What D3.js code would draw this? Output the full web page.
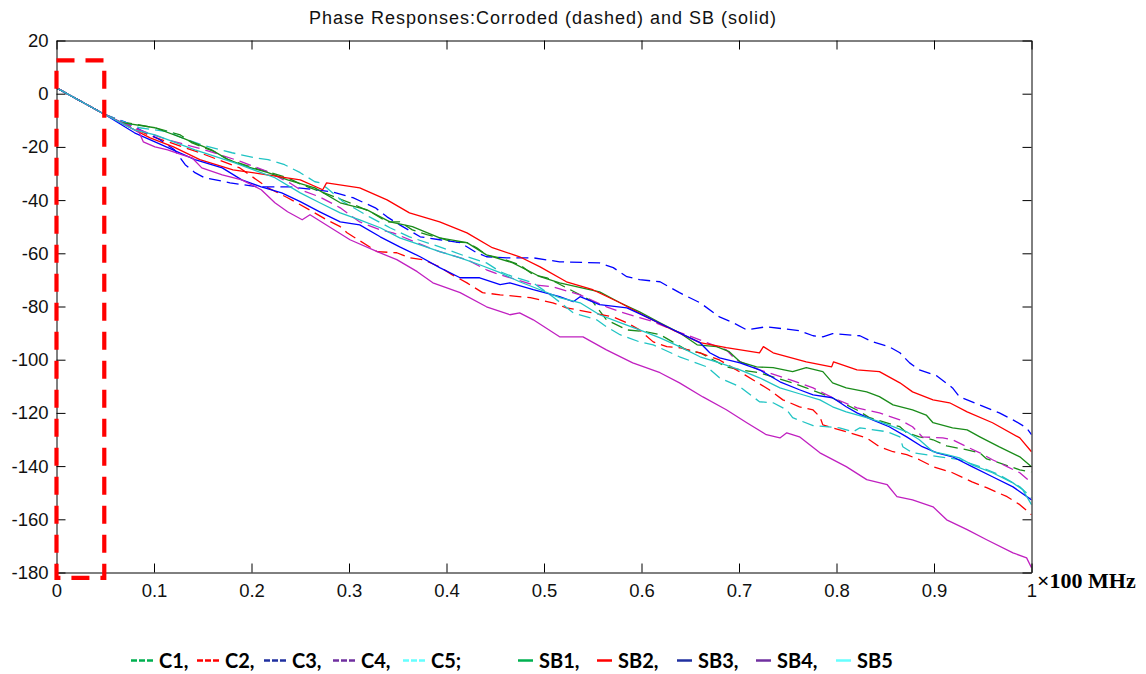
<!DOCTYPE html>
<html><head><meta charset="utf-8">
<script src="https://cdn.jsdelivr.net/npm/d3@7"></script>
<style>body{margin:0;background:#fff}svg{display:block}</style>
</head><body>
<svg id="chart" width="1146" height="674"></svg>
<script>
// ---- data (frequency in ×100 MHz, phase in degrees) ----
const xTicks = [0,0.1,0.2,0.3,0.4,0.5,0.6,0.7,0.8,0.9,1];
const xTickLabels = ["0","0.1","0.2","0.3","0.4","0.5","0.6","0.7","0.8","0.9","1"];
const yTicks = [20,0,-20,-40,-60,-80,-100,-120,-140,-160,-180];
const yTickLabels = ["20","0","-20","-40","-60","-80","-100","-120","-140","-160","-180"];
const seriesNames = ["C1","C2","C3","C4","C5","SB1","SB2","SB3","SB4","SB5"];

const C1 = [[0,2.2],[0.05,-7.9],[0.067,-10.6],[0.101,-12.8],[0.127,-15.5],[0.139,-18.5],[0.162,-21.8],[0.176,-24.8],[0.196,-27.1],[0.217,-29.4],[0.237,-31.6],[0.252,-34.3],[0.28,-38.0],[0.306,-41.8],[0.324,-44.8],[0.339,-48.2],[0.352,-48.2],[0.365,-51.2],[0.38,-53.0],[0.393,-54.2],[0.406,-55.7],[0.421,-56.0],[0.431,-57.9],[0.441,-60.6],[0.455,-61.7],[0.475,-64.3],[0.489,-68.1],[0.503,-69.2],[0.537,-75.6],[0.55,-78.2],[0.564,-85.0],[0.585,-88.8],[0.605,-89.5],[0.619,-90.6],[0.646,-96.3],[0.66,-97.4],[0.687,-102.7],[0.701,-103.8],[0.721,-104.9],[0.755,-108.7],[0.769,-110.6],[0.793,-113.9],[0.821,-118.9],[0.834,-121.8],[0.865,-125.2],[0.872,-127.5],[0.885,-129.0],[0.899,-130.1],[0.913,-132.4],[0.934,-133.9],[0.947,-135.0],[0.954,-137.3],[0.967,-138.8],[0.988,-141.4],[1,-142.2]];
const C2 = [[0,2.2],[0.05,-7.9],[0.096,-15.8],[0.147,-22.2],[0.188,-27.9],[0.217,-35.4],[0.237,-39.1],[0.263,-44.4],[0.277,-47.4],[0.291,-50.0],[0.298,-52.3],[0.329,-59.4],[0.349,-59.8],[0.362,-61.7],[0.376,-62.4],[0.393,-65.1],[0.406,-68.1],[0.421,-71.1],[0.437,-74.8],[0.455,-75.6],[0.486,-76.7],[0.509,-78.6],[0.523,-80.5],[0.55,-82.4],[0.571,-83.9],[0.585,-86.1],[0.598,-88.8],[0.612,-93.3],[0.626,-95.1],[0.639,-95.5],[0.66,-97.4],[0.68,-100.1],[0.706,-105.7],[0.731,-111.3],[0.745,-115.1],[0.762,-117.7],[0.776,-118.9],[0.783,-121.5],[0.786,-124.5],[0.796,-125.6],[0.81,-127.1],[0.831,-129.4],[0.844,-132.7],[0.858,-134.6],[0.872,-135.7],[0.885,-137.6],[0.899,-140.2],[0.919,-142.5],[0.939,-145.9],[0.954,-148.1],[0.975,-151.5],[0.988,-154.5],[1,-158.3]];
const C3 = [[0,2.2],[0.05,-7.9],[0.07,-10.6],[0.106,-17.3],[0.121,-21.1],[0.132,-26.7],[0.142,-29.7],[0.152,-31.6],[0.178,-33.5],[0.206,-35.0],[0.239,-35.0],[0.265,-36.1],[0.283,-36.9],[0.304,-39.1],[0.327,-42.9],[0.339,-46.3],[0.352,-49.3],[0.373,-53.8],[0.393,-54.9],[0.414,-56.0],[0.431,-59.8],[0.441,-61.3],[0.462,-61.7],[0.489,-61.7],[0.516,-63.2],[0.557,-63.6],[0.571,-65.4],[0.585,-68.8],[0.598,-69.9],[0.619,-70.7],[0.639,-74.8],[0.66,-78.6],[0.68,-83.9],[0.694,-86.1],[0.708,-88.8],[0.728,-87.6],[0.762,-89.1],[0.776,-91.0],[0.786,-91.4],[0.796,-90.2],[0.824,-91.0],[0.837,-93.3],[0.854,-95.1],[0.865,-97.4],[0.875,-101.2],[0.885,-103.8],[0.903,-106.1],[0.919,-110.6],[0.926,-113.9],[0.934,-115.1],[0.947,-117.0],[0.967,-120.0],[0.981,-122.6],[0.995,-125.6],[1,-128.2]];
const C4 = [[0,2.2],[0.05,-7.9],[0.085,-13.6],[0.114,-17.3],[0.152,-21.1],[0.19,-25.6],[0.217,-29.4],[0.239,-33.5],[0.25,-36.1],[0.27,-38.8],[0.291,-42.9],[0.311,-48.2],[0.332,-51.2],[0.345,-52.3],[0.38,-57.6],[0.393,-59.4],[0.421,-62.4],[0.441,-66.2],[0.455,-68.1],[0.489,-71.8],[0.509,-72.6],[0.537,-75.6],[0.564,-80.1],[0.578,-82.0],[0.598,-84.2],[0.612,-85.7],[0.632,-88.8],[0.646,-90.6],[0.667,-93.6],[0.687,-96.3],[0.697,-100.1],[0.721,-103.8],[0.752,-107.5],[0.776,-110.6],[0.796,-114.3],[0.821,-118.1],[0.844,-120.0],[0.865,-122.6],[0.878,-125.2],[0.888,-129.0],[0.909,-129.4],[0.919,-130.1],[0.934,-132.8],[0.947,-135.0],[0.96,-137.6],[0.975,-140.2],[0.988,-142.5],[1,-146.3]];
const C5 = [[0,2.2],[0.05,-7.9],[0.085,-12.8],[0.114,-14.3],[0.129,-16.6],[0.152,-19.6],[0.18,-22.2],[0.203,-24.1],[0.217,-24.8],[0.234,-26.7],[0.25,-29.7],[0.265,-33.1],[0.27,-33.5],[0.277,-35.4],[0.294,-40.6],[0.321,-46.3],[0.342,-50.4],[0.362,-53.8],[0.393,-57.6],[0.421,-61.3],[0.441,-63.6],[0.455,-66.9],[0.468,-68.8],[0.489,-71.1],[0.509,-76.3],[0.53,-82.4],[0.554,-85.0],[0.564,-87.6],[0.578,-90.6],[0.598,-93.3],[0.612,-94.4],[0.639,-98.9],[0.667,-102.7],[0.68,-106.8],[0.701,-110.2],[0.721,-115.8],[0.735,-116.2],[0.749,-118.9],[0.755,-121.8],[0.776,-124.8],[0.803,-125.6],[0.817,-127.1],[0.824,-125.6],[0.852,-127.1],[0.865,-129.0],[0.868,-132.7],[0.878,-135.0],[0.906,-136.5],[0.926,-137.6],[0.947,-140.2],[0.967,-143.3],[0.988,-147.8],[1,-151.9]];
const SB1 = [[0,2.2],[0.05,-7.9],[0.067,-10.9],[0.101,-12.8],[0.129,-16.6],[0.159,-21.1],[0.176,-24.8],[0.196,-27.5],[0.217,-29.7],[0.237,-32.4],[0.265,-35.4],[0.291,-41.0],[0.318,-43.6],[0.342,-48.2],[0.365,-50.0],[0.393,-54.2],[0.421,-56.0],[0.441,-60.6],[0.468,-63.6],[0.496,-68.8],[0.516,-71.1],[0.557,-74.5],[0.578,-78.6],[0.598,-82.0],[0.619,-86.1],[0.639,-89.9],[0.657,-94.4],[0.677,-95.1],[0.69,-97.0],[0.701,-100.8],[0.718,-102.7],[0.735,-103.0],[0.755,-104.5],[0.769,-103.0],[0.786,-104.5],[0.796,-108.7],[0.81,-110.6],[0.831,-112.1],[0.844,-113.9],[0.858,-117.0],[0.878,-118.9],[0.892,-120.8],[0.899,-123.7],[0.919,-125.6],[0.934,-126.4],[0.947,-129.0],[0.967,-132.8],[0.988,-136.5],[1,-140.2]];
const SB2 = [[0,2.2],[0.05,-7.9],[0.096,-16.6],[0.12,-20.0],[0.147,-24.8],[0.181,-28.6],[0.216,-30.5],[0.25,-32.4],[0.273,-36.1],[0.277,-33.5],[0.311,-35.4],[0.339,-39.9],[0.362,-44.8],[0.393,-48.2],[0.421,-52.3],[0.447,-57.9],[0.475,-61.3],[0.496,-65.1],[0.523,-70.7],[0.55,-73.7],[0.578,-78.6],[0.605,-83.9],[0.632,-88.8],[0.66,-93.6],[0.687,-95.5],[0.721,-97.4],[0.725,-95.1],[0.735,-97.4],[0.769,-100.8],[0.795,-102.7],[0.797,-100.8],[0.821,-103.8],[0.844,-104.5],[0.865,-108.7],[0.878,-112.1],[0.899,-115.1],[0.916,-116.2],[0.934,-119.6],[0.96,-123.7],[0.988,-129.4],[1,-134.6]];
const SB3 = [[0,2.2],[0.05,-7.9],[0.08,-14.7],[0.101,-18.1],[0.142,-24.8],[0.17,-27.9],[0.19,-32.4],[0.21,-35.0],[0.231,-37.3],[0.25,-40.6],[0.27,-44.4],[0.291,-48.2],[0.311,-49.3],[0.332,-53.8],[0.352,-57.6],[0.373,-61.3],[0.393,-65.4],[0.414,-69.2],[0.434,-69.2],[0.455,-71.8],[0.465,-71.1],[0.489,-73.7],[0.516,-76.3],[0.53,-78.2],[0.537,-76.3],[0.557,-79.3],[0.585,-80.5],[0.605,-83.9],[0.626,-87.6],[0.639,-89.9],[0.66,-93.6],[0.67,-97.4],[0.68,-99.3],[0.701,-101.2],[0.721,-103.8],[0.742,-108.3],[0.762,-111.3],[0.776,-113.2],[0.796,-114.3],[0.81,-117.7],[0.821,-120.0],[0.837,-122.6],[0.854,-125.2],[0.872,-129.0],[0.888,-132.7],[0.903,-135.0],[0.919,-136.5],[0.939,-140.2],[0.96,-144.0],[0.981,-147.8],[1,-152.7]];
const SB4 = [[0,2.2],[0.05,-7.9],[0.067,-10.9],[0.085,-14.7],[0.089,-18.1],[0.101,-20.0],[0.114,-21.1],[0.129,-23.0],[0.139,-24.1],[0.149,-27.9],[0.17,-30.5],[0.19,-32.4],[0.21,-36.1],[0.224,-41.0],[0.237,-44.4],[0.252,-47.4],[0.26,-45.5],[0.301,-54.9],[0.329,-59.4],[0.349,-62.4],[0.37,-66.9],[0.386,-71.1],[0.414,-74.8],[0.441,-80.1],[0.465,-83.1],[0.475,-82.4],[0.489,-85.0],[0.516,-91.4],[0.54,-91.4],[0.564,-96.3],[0.591,-101.2],[0.619,-104.9],[0.639,-108.7],[0.663,-114.0],[0.687,-118.8],[0.708,-123.7],[0.728,-128.2],[0.742,-129.4],[0.749,-127.5],[0.762,-129.0],[0.783,-135.0],[0.81,-140.2],[0.831,-145.1],[0.852,-147.0],[0.862,-151.5],[0.878,-152.7],[0.899,-155.3],[0.913,-160.2],[0.934,-163.9],[0.954,-167.7],[0.981,-172.6],[0.995,-174.5],[1,-178.2]];
const SB5 = [[0,2.2],[0.05,-7.9],[0.08,-13.6],[0.101,-15.5],[0.142,-21.1],[0.183,-26.0],[0.224,-31.6],[0.25,-37.3],[0.27,-41.0],[0.291,-44.8],[0.311,-47.4],[0.332,-50.4],[0.352,-54.2],[0.373,-56.8],[0.393,-59.4],[0.414,-61.7],[0.434,-64.3],[0.455,-67.3],[0.475,-70.7],[0.496,-73.7],[0.516,-76.7],[0.537,-78.6],[0.557,-83.1],[0.578,-86.1],[0.598,-88.8],[0.619,-91.8],[0.639,-95.1],[0.66,-98.9],[0.68,-101.2],[0.701,-103.8],[0.721,-106.8],[0.742,-110.6],[0.762,-112.8],[0.783,-115.1],[0.796,-117.7],[0.81,-119.6],[0.831,-121.8],[0.844,-123.3],[0.858,-125.2],[0.872,-127.1],[0.885,-130.1],[0.899,-134.6],[0.913,-135.7],[0.926,-136.9],[0.939,-139.5],[0.96,-142.5],[0.981,-146.3],[0.991,-148.9],[1,-154.5]];

const plotColors = {C1:"#1a8c1a",C2:"#ff0000",C3:"#0000ff",C4:"#c020c0",C5:"#20c4c4",SB1:"#1a8c1a",SB2:"#ff0000",SB3:"#0000ff",SB4:"#c020c0",SB5:"#20c4c4"};
const legendColors = {C1:"#00b050",C2:"#ff0000",C3:"#2030a0",C4:"#7030a0",C5:"#66ffff",SB1:"#00b050",SB2:"#ff0000",SB3:"#2030a0",SB4:"#7030a0",SB5:"#66ffff"};
const seriesData = {C1,C2,C3,C4,C5,SB1,SB2,SB3,SB4,SB5};

const svg = d3.select("#chart");
const x = d3.scaleLinear().domain([0,1]).range([56.5,1031.5]);
const y = d3.scaleLinear().domain([-180,20]).range([572.5,40.5]);
const tickFont = "'Liberation Sans', Arial, sans-serif";

// title
svg.append("text").attr("x",543).attr("y",24).attr("text-anchor","middle")
  .attr("font-family",tickFont).attr("font-size",18).attr("letter-spacing",1).attr("fill","#111")
  .text("Phase Responses:Corroded (dashed) and SB (solid)");

// clip
svg.append("clipPath").attr("id","plotclip").append("rect")
  .attr("x",56.5).attr("y",40.5).attr("width",975).attr("height",532);

// lines
const line = d3.line().x(d=>x(d[0])).y(d=>y(d[1]));
const lg = svg.append("g").attr("clip-path","url(#plotclip)");
seriesNames.forEach(n=>{
  lg.append("path").datum(seriesData[n]).attr("d",line)
    .attr("fill","none").attr("stroke",plotColors[n]).attr("stroke-width",1.3)
    .attr("stroke-linejoin","round")
    .attr("stroke-dasharray", n.startsWith("SB") ? null : "12,6");
});

// axes
function styleAxis(sel){
  sel.select(".domain").attr("stroke","#000").attr("stroke-width",1);
  sel.selectAll(".tick line").attr("stroke","#000");
  sel.selectAll("text").attr("font-family",tickFont).attr("font-size",18.5).attr("fill","#111");
}
svg.append("g").attr("transform","translate(0,572.5)")
  .call(d3.axisBottom(x).tickValues(xTicks).tickSizeInner(-9).tickSizeOuter(0).tickPadding(11).tickFormat((d,i)=>xTickLabels[i]))
  .call(styleAxis);
svg.append("g").attr("transform","translate(0,40.5)")
  .call(d3.axisTop(x).tickValues(xTicks).tickSizeInner(-9).tickSizeOuter(0).tickFormat(""))
  .call(styleAxis);
svg.append("g").attr("transform","translate(56.5,0)")
  .call(d3.axisLeft(y).tickValues(yTicks).tickSizeInner(-9).tickSizeOuter(0).tickPadding(8).tickFormat((d,i)=>yTickLabels[i]))
  .call(styleAxis);
svg.append("g").attr("transform","translate(1031.5,0)")
  .call(d3.axisRight(y).tickValues(yTicks).tickSizeInner(-9).tickSizeOuter(0).tickFormat(""))
  .call(styleAxis);

// x unit label
svg.append("text").attr("x",1037).attr("y",588)
  .attr("font-family","'Liberation Serif','Times New Roman',serif").attr("font-weight","bold")
  .attr("font-size",22).attr("fill","#000").text("×100 MHz");

// highlighted region
svg.append("rect").attr("x",x(0)).attr("y",y(12.5)).attr("width",x(0.049)-x(0)).attr("height",y(-182)-y(12.5))
  .attr("fill","none").attr("stroke","#ff0000").attr("stroke-width",4.2).attr("stroke-dasharray","18,11");

// legend
const legendX = {C1:131,C2:197,C3:264,C4:333,C5:403,SB1:518,SB2:597,SB3:677,SB4:756,SB5:836};
const legendLabel = {C1:"C1,",C2:"C2,",C3:"C3,",C4:"C4,",C5:"C5;",SB1:"SB1,",SB2:"SB2,",SB3:"SB3,",SB4:"SB4,",SB5:"SB5"};
const leg = svg.append("g");
seriesNames.forEach(n=>{
  const lx = legendX[n];
  const dashed = !n.startsWith("SB");
  const len = dashed ? 22 : 15;
  leg.append("line").attr("x1",lx).attr("x2",lx+len).attr("y1",660.5).attr("y2",660.5)
    .attr("stroke",legendColors[n]).attr("stroke-width",2.5)
    .attr("stroke-dasharray", dashed ? "6,2" : null);
  leg.append("text").attr("x",lx+len+6).attr("y",668)
    .attr("font-family","Lato, 'Open Sans', sans-serif").attr("font-weight","bold")
    .attr("font-size",20).attr("fill","#000").text(legendLabel[n]);
});
</script>
</body></html>
